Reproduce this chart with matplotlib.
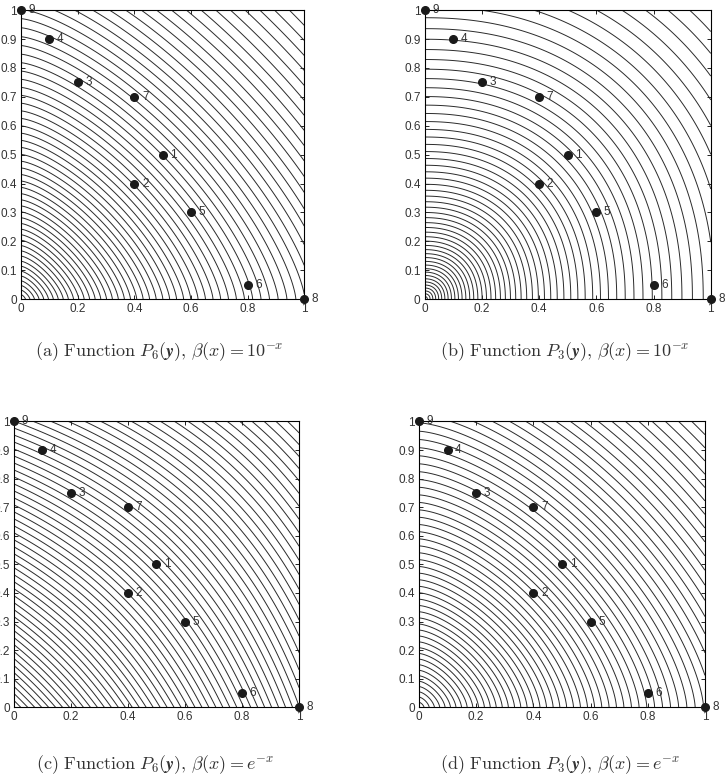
import numpy as np
import matplotlib.pyplot as plt

plt.rcParams['mathtext.fontset'] = 'cm'
plt.rcParams['font.family'] = ['Liberation Sans', 'DejaVu Sans']

# alternatives in criteria space
px = [0.5, 0.4, 0.2, 0.1, 0.6, 0.8, 0.4, 1.0, 0.0]
py = [0.5, 0.4, 0.75, 0.9, 0.3, 0.05, 0.7, 0.0, 1.0]
names = ['1', '2', '3', '4', '5', '6', '7', '8', '9']

xticks = [0, 0.2, 0.4, 0.6, 0.8, 1]
xticklabels = ['0', '0.2', '0.4', '0.6', '0.8', '1']
yticks = [0, 0.1, 0.2, 0.3, 0.4, 0.5, 0.6, 0.7, 0.8, 0.9, 1]
yticklabels = ['0', '0.1', '0.2', '0.3', '0.4', '0.5', '0.6', '0.7', '0.8', '0.9', '1']

captions = [r'$\mathrm{(a)\ Function\ }P_6(\boldsymbol{y}),\, \beta(x) = 10^{-x}$',
            r'$\mathrm{(b)\ Function\ }P_3(\boldsymbol{y}),\, \beta(x) = 10^{-x}$',
            r'$\mathrm{(c)\ Function\ }P_6(\boldsymbol{y}),\, \beta(x) = e^{-x}$',
            r'$\mathrm{(d)\ Function\ }P_3(\boldsymbol{y}),\, \beta(x) = e^{-x}$']


# level functions, log-compressed so the lines spread out away from the origin
def pnorm(X, Y, p, c):
    r = (X**p + Y**p)**(1.0 / p)
    return np.log(r + c)

def softsum(X, Y, p, c):
    s = np.exp(p * X) + np.exp(p * Y) - 2
    return np.log(s + c)

# (func, shape, offset, number of lines)
panels = [(pnorm, 1.4, 0.9, 60),
          (pnorm, 2.2, 0.3, 56),
          (softsum, 1.0, 1.0, 60),
          (pnorm, 1.5, 1.5, 60)]

# axes rectangles, figure fractions
rects = [[0.029, 0.616, 0.390, 0.371],
         [0.585, 0.616, 0.394, 0.371],
         [0.019, 0.092, 0.393, 0.367],
         [0.577, 0.092, 0.394, 0.367]]
cap_pos = [(0.220, 0.549), (0.778, 0.549), (0.213, 0.018), (0.772, 0.018)]

fig = plt.figure(figsize=(7.26, 7.79), dpi=100)

g = np.linspace(0, 1, 600)
X, Y = np.meshgrid(g, g)

for i in range(4):
    f, p, c, n = panels[i]
    ax = fig.add_axes(rects[i])
    Z = f(X, Y, p, c)
    lev = np.linspace(Z.min(), Z.max(), n + 2)[1:-1]
    ax.contour(X, Y, Z, levels=lev, colors='#2b2b2b', linewidths=0.7,
               linestyles='solid')

    ax.plot(px, py, 'o', color='#1a1a1a', ms=5.5, clip_on=False, zorder=5)
    for xx, yy, s in zip(px, py, names):
        ax.annotate(s, (xx, yy), xytext=(5.5, 0), textcoords='offset points',
                    va='center', ha='left', fontsize=8.5, color='#333333',
                    annotation_clip=False, zorder=6)

    ax.set_xlim(0, 1)
    ax.set_ylim(0, 1)
    ax.set_xticks(xticks)
    ax.set_xticklabels(xticklabels)
    ax.set_yticks(yticks)
    ax.set_yticklabels(yticklabels)
    ax.tick_params(direction='in', top=True, right=True, length=3,
                   width=0.6, labelsize=8.5, labelcolor='#333333', pad=3)
    for sp in ax.spines.values():
        sp.set_linewidth(0.8)

    fig.text(cap_pos[i][0], cap_pos[i][1], captions[i], ha='center',
             va='center', fontsize=13, color='#333333')

fig.savefig('out.png', dpi=100)
